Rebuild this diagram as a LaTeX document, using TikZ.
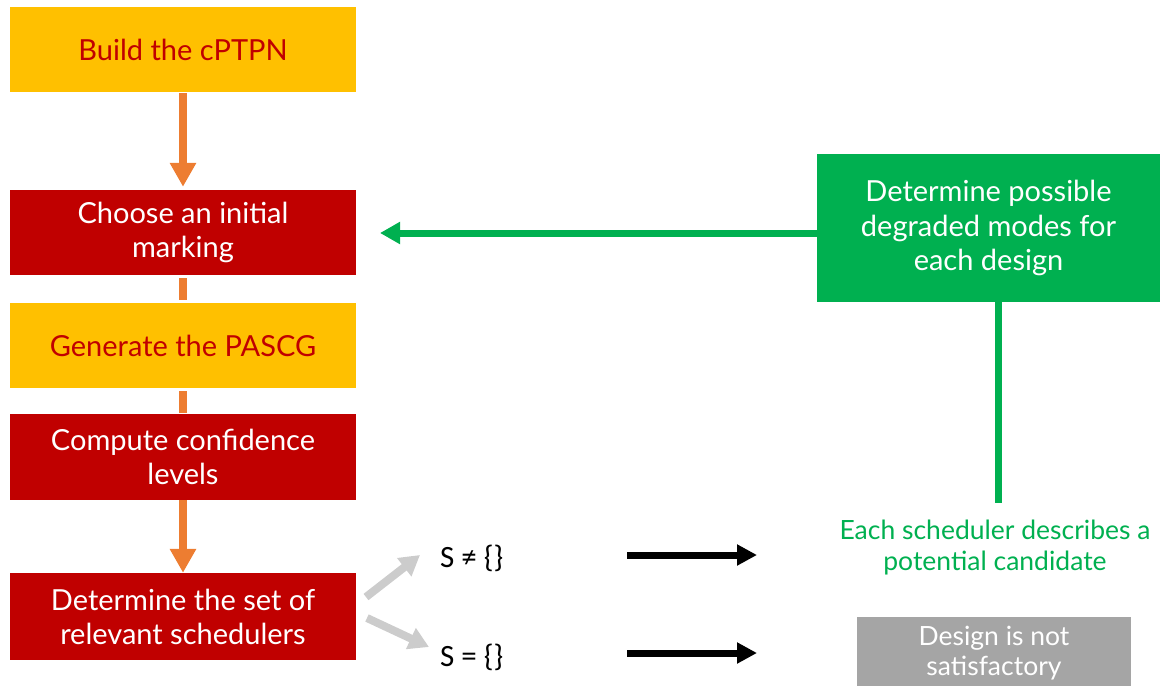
\documentclass[tikz,border=0pt]{standalone}
\usepackage{fontspec}
\setmainfont{Lato}
\newfontfamily\calfont{Carlito}
\usetikzlibrary{arrows.meta}
\definecolor{cyellow}{HTML}{FFC000}
\definecolor{cred}{HTML}{C00000}
\definecolor{corange}{HTML}{ED7D31}
\definecolor{cgreen}{HTML}{00B050}
\definecolor{cgray}{HTML}{A5A5A5}
\definecolor{clight}{HTML}{CCCCCC}
\tikzset{
  box/.style={minimum width=346pt, minimum height=85pt, inner sep=0pt, align=center, font=\fontsize{29}{34}\selectfont},
  ybox/.style={box, fill=cyellow, text=cred},
  rbox/.style={box, fill=cred, text=white},
  oarrow/.style={draw=corange, line width=8pt, -{Triangle[width=25pt,length=24pt]}},
  oline/.style={draw=corange, line width=8pt},
  garrow/.style={draw=cgreen, line width=7pt, -{Triangle[width=21pt,length=20pt]}},
  gline/.style={draw=cgreen, line width=7pt},
  larrow/.style={draw=clight, line width=8pt, -{Triangle[width=22pt,length=20pt]}},
  barrow/.style={draw=black, line width=7pt, -{Triangle[width=20pt,length=20pt]}},
  stext/.style={font=\calfont\fontsize{31}{36}\selectfont, inner sep=0pt},
}
\begin{document}
\begin{tikzpicture}[x=1pt,y=-1pt]
\useasboundingbox (0,0) rectangle (1161,686);
\node[ybox] (b1) at (183,49.5) {Build the cPTPN};
\node[rbox] (b2) at (183,232.5) {Choose an initial\\marking};
\node[ybox] (b3) at (183,345.5) {Generate the PASCG};
\node[rbox, minimum height=86pt] (b4) at (183,457) {Compute confidence\\levels};
\node[rbox, minimum height=87pt] (b5) at (183,616.5) {Determine the set of\\relevant schedulers};
\node[fill=cgreen, text=white, minimum width=343pt, minimum height=148pt, inner sep=0pt, align=center, font=\fontsize{29}{34.5}\selectfont] (g) at (988.5,228) {Determine possible\\degraded modes for\\each design};
\node[fill=cgray, text=white, minimum width=274pt, minimum height=69pt, inner sep=0pt, align=center, font=\fontsize{26.5}{30}\selectfont, text depth=2pt] (d) at (994,651.5) {Design is not\\satisfactory};
\node[text=cgreen, align=center, inner sep=0pt, font=\fontsize{26.5}{31}\selectfont] (t) at (995,548) {Each scheduler describes a\\potential candidate};
\node[stext, anchor=west] (s1) at (440,558) {S ≠ \{\}};
\node[stext, anchor=west] (s2) at (440,657) {S = \{\}};
\draw[oarrow, shorten <=1pt, shorten >=3pt] (b1) -- (b2);
\draw[oline, shorten <=3pt, shorten >=3pt] (b2) -- (b3);
\draw[oline, shorten <=3pt, shorten >=1pt] (b3) -- (b4);
\draw[oarrow, shorten >=0pt] (b4) -- (b5);
\coordinate (ga) at (380,233);
\coordinate (gl) at (998,503);
\draw[garrow] (g.west |- ga) -- (ga);
\draw[gline] (gl |- g.south) -- (gl);
\coordinate (l1s) at (366,597);
\coordinate (l1e) at (420,555);
\coordinate (l2s) at (367,618);
\coordinate (l2e) at (429,647);
\draw[larrow] (l1s) -- (l1e);
\draw[larrow] (l2s) -- (l2e);
\coordinate (k1s) at (627,555);
\coordinate (k1e) at (757,555);
\coordinate (k2s) at (627,653);
\coordinate (k2e) at (757,653);
\draw[barrow] (k1s) -- (k1e);
\draw[barrow] (k2s) -- (k2e);
\end{tikzpicture}
\end{document}
